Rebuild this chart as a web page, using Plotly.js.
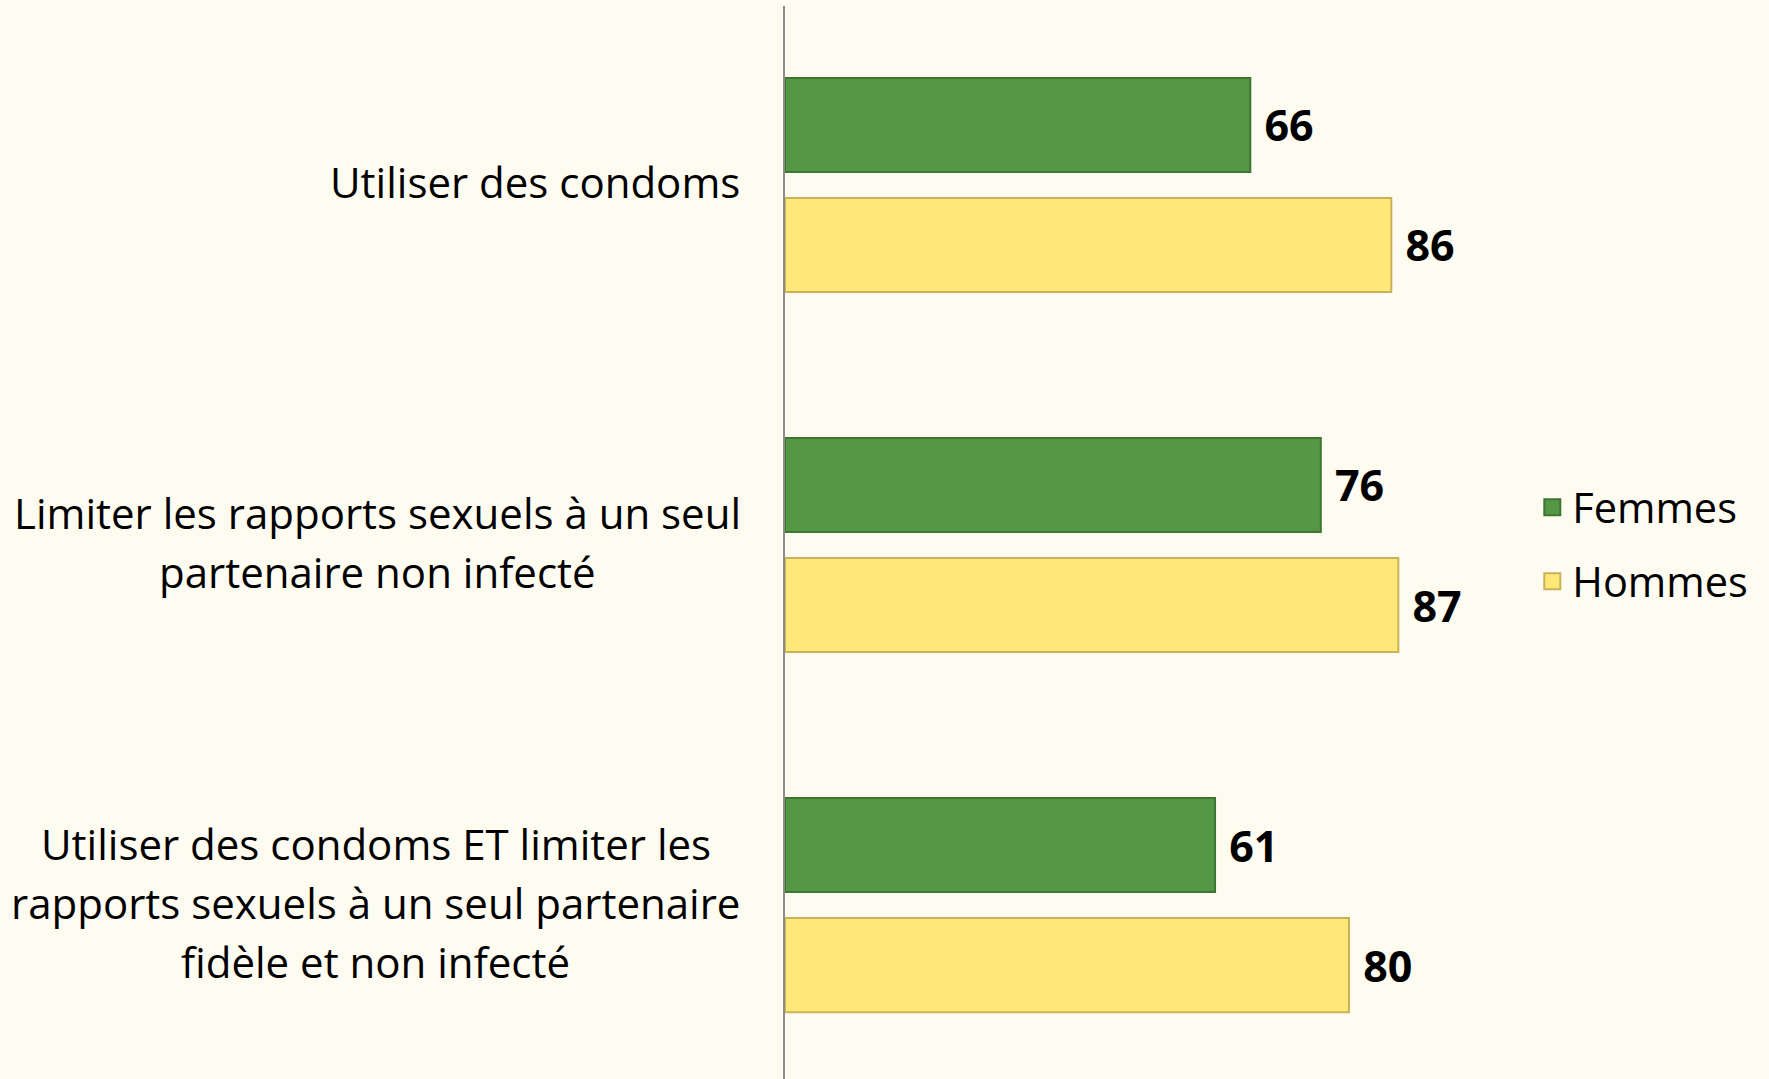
<!DOCTYPE html>
<html>
<head>
<meta charset="utf-8">
<script src="https://cdn.plot.ly/plotly-3.0.1.min.js"></script>
<style>html,body{margin:0;padding:0;background:#FEFBF0;}#chart{width:1769px;height:1079px;}</style>
</head>
<body>
<div id="chart"></div>
<script>
const categories = ["Utiliser des condoms",
  "Limiter les rapports sexuels à un seul<br>partenaire non infecté",
  "Utiliser des condoms ET limiter les<br>rapports sexuels à un seul partenaire<br>fidèle et non infecté"];
const seriesNames = ["Femmes", "Hommes"];
const femmes = [66, 76, 61];
const hommes = [86, 87, 80];
const colors = ["#549745", "#FFE877"];
const borders = ["#3E7533", "#C8B25A"];

const catIdx = categories.map((c, i) => i);
const FONT = "'Open Sans', 'DejaVu Sans', sans-serif";
const LABEL_SIZE = 42;
const LABEL_LINE = 59;

function barTrace(name, vals, k) {
  return {
    type: "bar", orientation: "h", name: name,
    y: catIdx, x: vals,
    marker: {color: colors[k], line: {color: borders[k], width: 2}},
    text: vals.map(v => "\u00A0<b>" + v + "</b>"),
    textposition: "outside", cliponaxis: false,
    textfont: {family: FONT, size: 43, color: "#000"},
    showlegend: false, hoverinfo: "x"
  };
}
function legendTrace(name, k) {
  return {
    type: "scatter", mode: "markers", name: name, x: [null], y: [null],
    legendgroup: name,
    marker: {symbol: "square", size: 25, color: colors[k], line: {color: borders[k], width: 2}},
    showlegend: true
  };
}

const data = [
  barTrace(seriesNames[0], femmes, 0),
  barTrace(seriesNames[1], hommes, 1),
  legendTrace(seriesNames[0], 0),
  legendTrace(seriesNames[1], 1)
];

// measure text to right-align each label block with lines centred inside it
const ctx = document.createElement("canvas").getContext("2d");
ctx.font = LABEL_SIZE + "px " + FONT;

const annotations = [];
categories.forEach((c, i) => {
  const lines = c.split("<br>");
  const n = lines.length;
  const blockW = Math.max(...lines.map(l => ctx.measureText(l).width));
  lines.forEach((ln, k) => {
    annotations.push({
      xref: "paper", yref: "y", x: -0.063, y: i, text: ln,
      xanchor: "center", yanchor: "middle", align: "center", showarrow: false,
      xshift: -blockW / 2,
      yshift: 3 - (k - (n - 1) / 2) * LABEL_LINE,
      font: {family: FONT, size: LABEL_SIZE, color: "#000"}
    });
  });
});

const layout = {
  width: 1769, height: 1079,
  paper_bgcolor: "#FEFBF0", plot_bgcolor: "#FEFBF0",
  margin: {l: 785, r: 279, t: 6, b: 0, pad: 0},
  barmode: "group", bargap: 0.333, bargroupgap: 0.217,
  xaxis: {range: [0, 100], showgrid: false, zeroline: false, showticklabels: false, ticks: "", showline: false},
  yaxis: {type: "linear", range: [2.483, -0.497], showgrid: false, zeroline: false,
          showticklabels: false, ticks: "", showline: true, linecolor: "#8C8C8C", linewidth: 2},
  showlegend: true,
  legend: {x: 1.06, y: 0.564, xanchor: "left", yanchor: "top", bgcolor: "rgba(0,0,0,0)",
           font: {family: FONT, size: 41.5, color: "#000"}, traceorder: "grouped", tracegroupgap: 17,
           itemsizing: "trace"},
  annotations: annotations
};

Plotly.newPlot("chart", data, layout, {displayModeBar: false, staticPlot: true});
</script>
</body>
</html>
